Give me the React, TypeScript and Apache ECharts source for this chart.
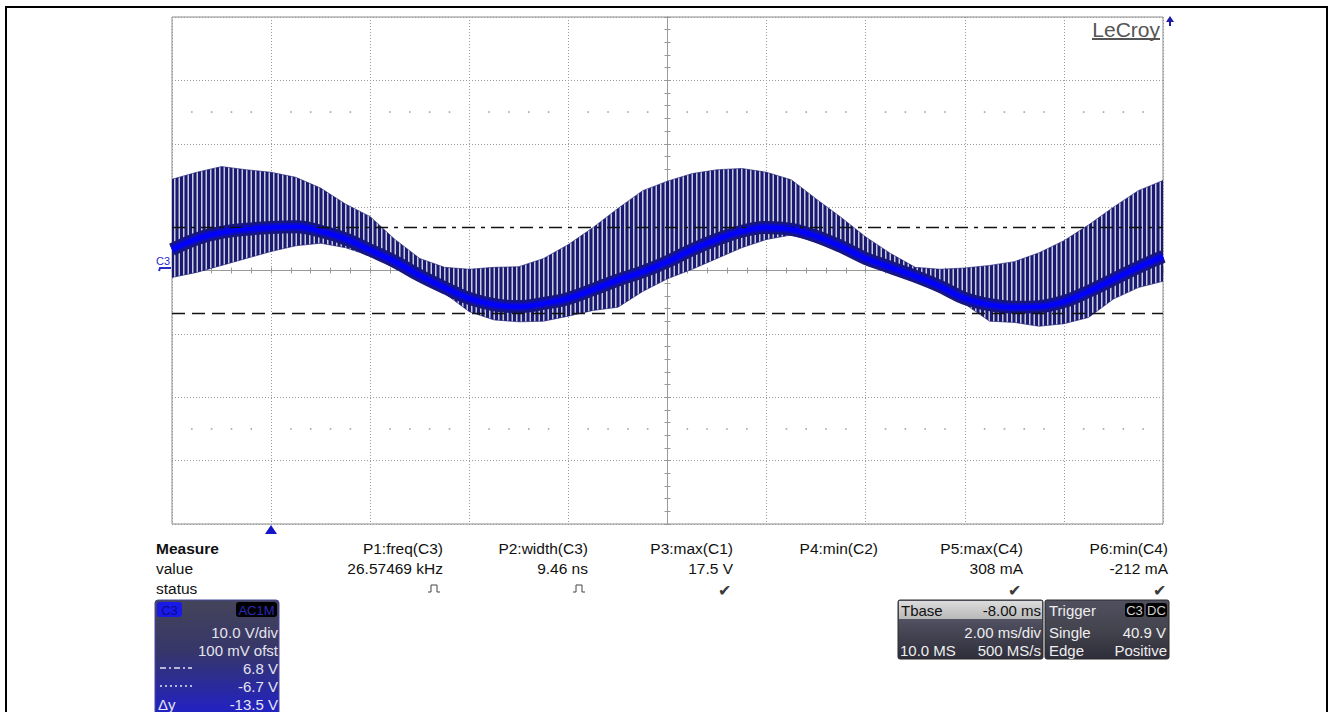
import React, { useEffect, useRef } from 'react';
import * as echarts from 'echarts';

const timeMs = [
  -2, -1.5, -1, -0.5, 0, 0.5, 1, 1.5, 2, 2.5, 3, 3.5, 4, 4.5, 5, 5.5, 6, 6.5, 7, 7.5,
  8, 8.5, 9, 9.5, 10, 10.5, 11, 11.5, 12, 12.5, 13, 13.5, 14, 14.5, 15, 15.5, 16, 16.5, 17, 17.5, 18,
];
// centre of the thick blue trace (V)
const bandCenterV = [
  3.3, 5.0, 6.0, 6.5, 6.8, 6.9, 6.2, 5.0, 3.2, 1.4, -0.8, -2.7, -4.4, -5.4, -5.7, -5.2, -4.4, -3.0, -1.5, -0.2,
  1.4, 3.3, 4.9, 6.2, 6.8, 6.5, 5.4, 3.8, 1.9, 0.5, -0.9, -2.5, -4.4, -5.4, -5.8, -5.7, -4.9, -3.3, -1.4, 0.5, 2.2,
];
// upper envelope of the switching spikes (V)
const spikeTopV = [
  14.4, 15.5, 16.4, 15.9, 15.5, 14.7, 13.0, 10.5, 8.5, 4.9, 1.9, 0.5, 0.2, 0.5, 0.6, 1.9, 4.1, 6.8, 9.8, 12.6,
  14.1, 15.3, 15.9, 16.1, 15.5, 14.3, 11.3, 8.4, 5.3, 2.7, 0.5, 0.2, 0.4, 0.8, 1.4, 2.8, 4.7, 7.2, 10.0, 12.6, 14.2,
];
// lower envelope of the switching spikes (V)
const spikeBottomV = [
  -1.1, -0.3, 0.8, 1.9, 3.0, 3.9, 4.3, 3.6, 2.3, 0.5, -1.7, -3.6, -6.5, -7.8, -8.1, -8.0, -7.2, -6.3, -5.8, -3.3,
  -1.3, 0.2, 1.9, 3.6, 4.9, 5.6, 4.5, 2.9, 1.0, -0.4, -1.8, -3.4, -5.3, -8.0, -8.2, -8.8, -8.4, -7.4, -4.5, -2.7, -1.7,
];
const cursorLevelsV = [6.8, -6.7];
const gridDotRowsV = [25, -25];

const measureHeaders = ['P1:freq(C3)', 'P2:width(C3)', 'P3:max(C1)', 'P4:min(C2)', 'P5:max(C4)', 'P6:min(C4)'];
const measureValues = ['26.57469 kHz', '9.46 ns', '17.5 V', '', '308 mA', '-212 mA'];
const measureStatus = ['pulse', 'pulse', 'ok', '', 'ok', 'ok'];
const channelInfo = ['10.0 V/div', '100 mV ofst', '6.8 V', '-6.7 V', '-13.5 V'];
const timebaseInfo = ['Tbase', '-8.00 ms', '2.00 ms/div', '10.0 MS', '500 MS/s'];
const triggerInfo = ['Trigger', 'C3', 'DC', 'Single', '40.9 V', 'Edge', 'Positive'];

// ---------- layout ----------
const X_MIN = -2, X_MAX = 18, X_INT = 2;
const Y_MIN = -40, Y_MAX = 40, Y_INT = 10;
const GRID = { left: 172, top: 17, width: 991, height: 507 };
const FONT = '"Liberation Sans", Arial, Helvetica, sans-serif';

function txt(x: number, y: number, text: string, o: any = {}) {
  const align = o.align ?? 'left';
  return {
    type: 'text', x, y, silent: true, z: 120,
    style: {
      text, fontFamily: FONT, fontSize: o.size ?? 15.5, fontWeight: o.bold ? 'bold' : 'normal',
      fill: o.color ?? '#111', align, textAlign: align, verticalAlign: 'middle', textVerticalAlign: 'middle',
    },
  };
}
function rect(x: number, y: number, w: number, h: number, fill: any, stroke = 'none', r = 0) {
  return { type: 'rect', silent: true, z: 110, shape: { x, y, width: w, height: h, r }, style: { fill, stroke, lineWidth: 1 } };
}
function seg(x1: number, y1: number, x2: number, y2: number, stroke: string, lw = 1, dash?: number[]) {
  return { type: 'line', silent: true, z: 120, shape: { x1, y1, x2, y2 }, style: { stroke, lineWidth: lw, lineDash: dash } };
}

export default function App() {
  const ref = useRef<HTMLDivElement>(null);
  useEffect(() => {
    const chart = echarts.init(ref.current!, null, { renderer: 'svg' });

    const pat = document.createElement('canvas');
    pat.width = 9; pat.height = 6;
    const ctx = pat.getContext('2d')!;
    ctx.fillStyle = '#c9cbd8'; ctx.fillRect(0, 0, 9, 6);
    ctx.fillStyle = '#1a1a74';
    ctx.fillRect(0, 0, 3, 6);
    ctx.fillRect(4.5, 0, 3, 6);

    const envData = timeMs.map((t, i) => [t, spikeTopV[i], spikeBottomV[i]]);
    const centerData = timeMs.map((t, i) => [t, bandCenterV[i]]);
    const minorStep = X_INT / 5;
    const nMinor = Math.round((X_MAX - X_MIN) / minorStep);
    const dots: number[][] = [];
    gridDotRowsV.forEach((v) => {
      for (let i = 1; i < nMinor; i++) if (i % 5 !== 0) dots.push([X_MIN + i * minorStep, v]);
    });

    const colX = [443, 588, 733, 878, 1023, 1168];
    const graphic: any[] = [];
    graphic.push({ type: 'rect', silent: true, z: 130, shape: { x: 6, y: 7, width: 1321, height: 730 }, style: { fill: 'none', stroke: '#000', lineWidth: 2 } });
    graphic.push(txt(1160, 29, 'LeCroy', { size: 21, color: '#555', align: 'right' }));
    graphic.push(seg(1092, 39, 1160, 39, '#555', 2));
    graphic.push({ type: 'polygon', silent: true, z: 120, shape: { points: [[1166, 22], [1170, 16], [1174, 22]] }, style: { fill: '#1c1ca8' } });
    graphic.push(seg(1170, 20, 1170, 26, '#1c1ca8', 2));
    graphic.push(txt(163, 261, 'C3', { size: 11, color: '#2a2ac8', align: 'center' }));
    graphic.push({ type: 'polyline', silent: true, z: 120, shape: { points: [[159, 271], [160, 268], [171, 268]] }, style: { stroke: '#2a2ac8', lineWidth: 2, fill: 'none' } });
    graphic.push({ type: 'polygon', silent: true, z: 120, shape: { points: [[265, 534], [271, 525], [277, 534]] }, style: { fill: '#1414c8' } });

    graphic.push(txt(156, 548, 'Measure', { bold: true }));
    graphic.push(txt(156, 568, 'value'));
    graphic.push(txt(156, 588, 'status'));
    measureHeaders.forEach((h, i) => {
      graphic.push(txt(colX[i], 548, h, { align: 'right' }));
      if (measureValues[i]) graphic.push(txt(colX[i], 568, measureValues[i], { align: 'right' }));
      if (measureStatus[i] === 'ok') graphic.push(txt(colX[i] - 2, 590, '\u2714', { align: 'right', size: 16, color: '#3a3a3a' }));
      if (measureStatus[i] === 'pulse') {
        const x0 = colX[i] - 15;
        graphic.push({ type: 'polyline', silent: true, z: 120, shape: { points: [[x0, 592], [x0 + 3, 592], [x0 + 3, 585], [x0 + 9, 585], [x0 + 9, 592], [x0 + 12, 592]] }, style: { stroke: '#444', lineWidth: 1, fill: 'none' } });
      }
    });

    graphic.push(rect(155, 600, 124, 130, new echarts.graphic.LinearGradient(0, 0, 0, 1, [
      { offset: 0, color: '#44445a' }, { offset: 0.4, color: '#36366a' }, { offset: 0.8, color: '#2424b8' }, { offset: 1, color: '#1e1ed8' },
    ]), '#4848a0', 3));
    graphic.push(rect(157, 602, 25, 15, '#1a1ae8', 'none', 3));
    graphic.push(txt(169.5, 610, 'C3', { size: 13, color: '#0a0a88', align: 'center' }));
    graphic.push(rect(236, 602, 41, 15, '#000', 'none', 3));
    graphic.push(txt(256.5, 610, 'AC1M', { size: 13, color: '#2a2ab8', align: 'center' }));
    const chY = [632, 650, 668, 686, 704];
    channelInfo.forEach((s, i) => graphic.push(txt(278, chY[i], s, { size: 15, color: '#e4e4ee', align: 'right' })));
    graphic.push(seg(160, 668, 192, 668, '#e4e4ee', 1.5, [6, 3, 2, 3]));
    graphic.push(seg(160, 686, 194, 686, '#e4e4ee', 1.5, [2, 3]));
    graphic.push(txt(158, 704, '\u0394y', { size: 15, color: '#e4e4ee' }));

    graphic.push(rect(898, 600, 145, 59, new echarts.graphic.LinearGradient(0, 0, 0, 1, [
      { offset: 0, color: '#6a6a7c' }, { offset: 0.45, color: '#4a4a5a' }, { offset: 1, color: '#2e2e3a' },
    ]), '#2a2a2a', 2));
    graphic.push(rect(899, 601, 143, 18, new echarts.graphic.LinearGradient(0, 0, 0, 1, [
      { offset: 0, color: '#dcdcdc' }, { offset: 1, color: '#b8b8b8' },
    ])));
    graphic.push(txt(901, 610, timebaseInfo[0], { size: 15, color: '#111' }));
    graphic.push(txt(1041, 610, timebaseInfo[1], { size: 15, color: '#111', align: 'right' }));
    graphic.push(txt(1041, 632, timebaseInfo[2], { size: 15, color: '#eeeeee', align: 'right' }));
    graphic.push(txt(900, 650, timebaseInfo[3], { size: 15, color: '#eeeeee' }));
    graphic.push(txt(1041, 650, timebaseInfo[4], { size: 15, color: '#eeeeee', align: 'right' }));

    graphic.push(rect(1045, 600, 124, 59, new echarts.graphic.LinearGradient(0, 0, 0, 1, [
      { offset: 0, color: '#505060' }, { offset: 0.5, color: '#44444f' }, { offset: 1, color: '#2e2e3a' },
    ]), '#2a2a2a', 2));
    graphic.push(txt(1049, 610, triggerInfo[0], { size: 15, color: '#eeeeee' }));
    graphic.push(rect(1125, 603, 19, 14, '#000', 'none', 3));
    graphic.push(txt(1134.5, 610, triggerInfo[1], { size: 13, color: '#d0d0d0', align: 'center' }));
    graphic.push(rect(1146, 603, 21, 14, '#000', 'none', 3));
    graphic.push(txt(1156.5, 610, triggerInfo[2], { size: 13, color: '#d0d0d0', align: 'center' }));
    graphic.push(txt(1049, 632, triggerInfo[3], { size: 15, color: '#eeeeee' }));
    graphic.push(txt(1166, 632, triggerInfo[4], { size: 15, color: '#eeeeee', align: 'right' }));
    graphic.push(txt(1049, 650, triggerInfo[5], { size: 15, color: '#eeeeee' }));
    graphic.push(txt(1167, 650, triggerInfo[6], { size: 15, color: '#eeeeee', align: 'right' }));

    const gridLine = { show: true, lineStyle: { color: '#9a9a9a', type: [1, 2], width: 1 } };
    const centerAxisLine = { show: true, onZero: true, lineStyle: { color: '#9a9a9a', width: 1 } };
    const tick = { show: true, length: 3, lineStyle: { color: '#9a9a9a' } };
    const minorTick = { show: true, splitNumber: 5, length: 3, lineStyle: { color: '#9a9a9a' } };

    const bandLine = (name: string, color: string, width: number, z: number, extra: any = {}) => ({
      type: 'line', name, data: centerData, smooth: 0.4, symbol: 'none', silent: true, z,
      lineStyle: { color, width }, ...extra,
    });

    const option: any = {
      animation: false,
      backgroundColor: '#ffffff',
      grid: { ...GRID, show: true, borderColor: '#8c8c8c', borderWidth: 1, backgroundColor: 'transparent' },
      xAxis: [
        { type: 'value', min: X_MIN, max: X_MAX, interval: X_INT, position: 'bottom',
          axisLine: { ...centerAxisLine, onZeroAxisIndex: 0 }, axisTick: tick, minorTick,
          axisLabel: { show: false }, splitLine: gridLine },
        { type: 'value', min: X_MIN, max: X_MAX, interval: X_INT, position: 'top',
          axisLine: { ...centerAxisLine, onZeroAxisIndex: 1 }, axisTick: tick, minorTick,
          axisLabel: { show: false }, splitLine: { show: false } },
        { type: 'value', min: -10, max: 10, interval: 1, show: false },
      ],
      yAxis: [
        { type: 'value', min: Y_MIN, max: Y_MAX, interval: Y_INT, position: 'left',
          axisLine: { ...centerAxisLine, onZeroAxisIndex: 2 }, axisTick: tick, minorTick,
          axisLabel: { show: false }, splitLine: gridLine },
        { type: 'value', min: Y_MIN, max: Y_MAX, interval: Y_INT, position: 'right',
          axisLine: { ...centerAxisLine, onZeroAxisIndex: 2 }, axisTick: tick, minorTick,
          axisLabel: { show: false }, splitLine: { show: false } },
      ],
      series: [
        { type: 'scatter', name: 'dots', data: dots, symbol: 'rect', symbolSize: 1.6, silent: true, z: 1,
          itemStyle: { color: '#8a8a8a' } },
        { type: 'custom', name: 'spikes', data: envData, encode: { x: 0, y: [1, 2] }, silent: true, z: 2, clip: true,
          renderItem: (params: any, api: any) => {
            if (params.dataIndexInside !== 0) return null;
            const n = params.dataInsideLength ?? envData.length;
            const top: number[][] = [];
            const bot: number[][] = [];
            for (let j = 0; j < n; j++) {
              top.push(api.coord([api.value(0, j), api.value(1, j)]));
              bot.push(api.coord([api.value(0, j), api.value(2, j)]));
            }
            return {
              type: 'polygon',
              shape: { points: top.concat(bot.reverse()) },
              style: { fill: { image: pat, repeat: 'repeat' }, stroke: '#1a1a72', lineWidth: 0.6 },
            };
          } },
        bandLine('bandOuter', '#17177e', 13, 3),
        bandLine('bandMid', '#0c0cc4', 8, 4),
        bandLine('bandInner', '#0000ff', 4, 5, {
          markLine: {
            silent: true, symbol: ['none', 'none'], label: { show: false },
            data: [
              { yAxis: cursorLevelsV[0], lineStyle: { color: '#111', width: 1.3, type: [13, 6, 4, 6] } },
              { yAxis: cursorLevelsV[1], lineStyle: { color: '#111', width: 1.3, type: [13, 7] } },
            ],
          },
        }),
      ],
      graphic,
    };
    chart.setOption(option);
    return () => chart.dispose();
  }, []);
  return (
    <div
      ref={ref}
      style={{ position: 'absolute', left: 0, top: 0, width: 1331, height: 712, background: '#fff' }}
    />
  );
}
